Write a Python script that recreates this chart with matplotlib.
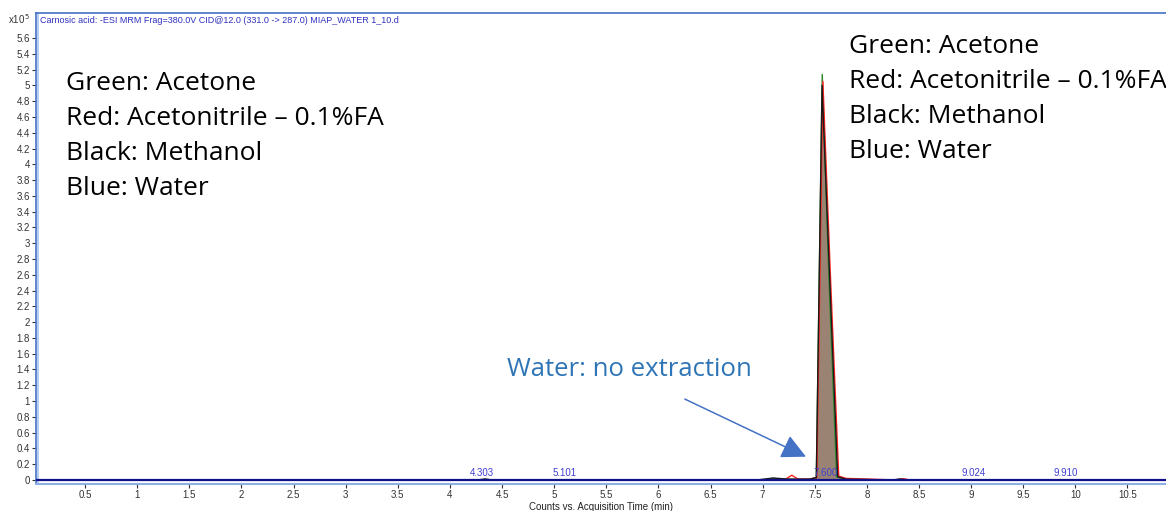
import matplotlib
matplotlib.use("Agg")
import matplotlib.pyplot as plt
from matplotlib.ticker import FuncFormatter

# ---- data (x in min, y in counts x10^5) ----
t_green = [0.03, 4.25, 4.33, 4.40, 7.00, 7.10, 7.20, 7.45, 7.515, 7.572, 7.635, 7.71, 7.80, 8.25, 8.32, 8.40, 10.87]
y_green = [0.0, 0.0, 0.01, 0.0, 0.0, 0.02, 0.01, 0.01, 0.03, 5.14, 2.6, 0.04, 0.01, 0.0, 0.01, 0.0, 0.0]

t_red = [0.03, 7.00, 7.22, 7.28, 7.34, 7.45, 7.52, 7.578, 7.65, 7.73, 7.80, 8.28, 8.35, 8.42, 10.87]
y_red = [0.0, 0.0, 0.01, 0.06, 0.01, 0.01, 0.03, 5.05, 2.6, 0.05, 0.02, 0.0, 0.015, 0.0, 0.0]

t_black = [0.03, 4.28, 4.34, 4.40, 6.95, 7.10, 7.25, 7.45, 7.515, 7.57, 7.645, 7.72, 7.80, 8.25, 8.32, 8.40, 10.87]
y_black = [0.0, 0.0, 0.012, 0.0, 0.0, 0.025, 0.01, 0.01, 0.03, 5.0, 2.5, 0.04, 0.01, 0.0, 0.012, 0.0, 0.0]

t_blue = [0.03, 10.87]
y_blue = [0.005, 0.005]

rt_labels = ["4.303", "5.101", "7.600", "9.024", "9.910"]
rt_values = [4.303, 5.101, 7.600, 9.024, 9.910]

x_ticks = [0.5, 1, 1.5, 2, 2.5, 3, 3.5, 4, 4.5, 5, 5.5, 6, 6.5, 7, 7.5, 8, 8.5, 9, 9.5, 10, 10.5]
y_ticks = [0, 0.2, 0.4, 0.6, 0.8, 1, 1.2, 1.4, 1.6, 1.8, 2, 2.2, 2.4, 2.6, 2.8, 3, 3.2, 3.4,
           3.6, 3.8, 4, 4.2, 4.4, 4.6, 4.8, 5, 5.2, 5.4, 5.6]

legend_lines = ["Green: Acetone", "Red: Acetonitrile \u2013 0.1%FA", "Black: Methanol", "Blue: Water"]
title_text = "Carnosic acid: -ESI MRM Frag=380.0V CID@12.0 (331.0 -> 287.0) MIAP_WATER 1_10.d"

fig = plt.figure(figsize=(11.66, 5.11), dpi=100)
ax = fig.add_axes([0.031, 0.053, 0.969, 0.922])
ax.set_xlim(0.03, 10.87)
ax.set_ylim(-0.05, 5.92)

ax.fill_between(t_black, y_black, 0, color="#9b8373", lw=0, zorder=1)
ax.plot(t_red, y_red, color="#ff2020", lw=1.0, zorder=3)
ax.plot(t_green, y_green, color="#2e8b2e", lw=1.0, zorder=2)
ax.plot(t_black, y_black, color="#1a1a1a", lw=1.0, zorder=4)
ax.plot(t_blue, y_blue, color="#10108a", lw=1.6, zorder=5)

for lab, v in zip(rt_labels, rt_values):
    ax.text(v, 0.03, lab, color="#4040d0", fontsize=7, ha="center", va="bottom",
            family="Liberation Sans", zorder=6)

# spines
for s in ["top", "left", "right"]:
    ax.spines[s].set_color("#4472c4")
    ax.spines[s].set_linewidth(1.2)
ax.spines["right"].set_visible(False)
ax.spines["bottom"].set_color("#8fb0e6")
ax.spines["bottom"].set_linewidth(1.5)
ax.axvline(0.05, color="#a9c4f0", lw=1.2, zorder=0)

fmt = FuncFormatter(lambda v, p: ("%g" % round(v, 1)))
ax.set_xticks(x_ticks)
ax.set_yticks(y_ticks)
ax.xaxis.set_major_formatter(fmt)
ax.yaxis.set_major_formatter(fmt)
ax.tick_params(axis="both", labelsize=7, colors="#333333", length=3, width=0.8, pad=1.5)
for lbl in ax.get_xticklabels() + ax.get_yticklabels():
    lbl.set_family("Liberation Sans")

ax.set_xlabel("Counts vs. Acquisition Time (min)", fontsize=7, family="Liberation Sans",
              color="#222222", labelpad=1)

ax.text(0.003, 0.984, title_text, transform=ax.transAxes, fontsize=6.5, color="#3030c0",
        family="Liberation Sans", va="center", ha="left")
fig.text(0.007, 0.962, r"x10$^{\,5}$", fontsize=7, color="#333333", family="Liberation Sans",
         va="center", ha="left")

# annotations
ax.text(0.32, 5.18, "\n".join(legend_lines), fontsize=19, family="Open Sans", color="black",
        va="top", ha="left", linespacing=1.52)
ax.text(7.83, 5.65, "\n".join(legend_lines), fontsize=19, family="Open Sans", color="black",
        va="top", ha="left", linespacing=1.52)
ax.text(4.55, 1.40, "Water: no extraction", fontsize=18.5, family="Open Sans", color="#2e75b6",
        va="center", ha="left")
ax.annotate("", xy=(7.44, 0.28), xytext=(6.23, 1.04),
            arrowprops=dict(arrowstyle="-|>,head_length=1.5,head_width=0.75", color="#4472c4", lw=1.1))

fig.savefig("out.png", dpi=100)
